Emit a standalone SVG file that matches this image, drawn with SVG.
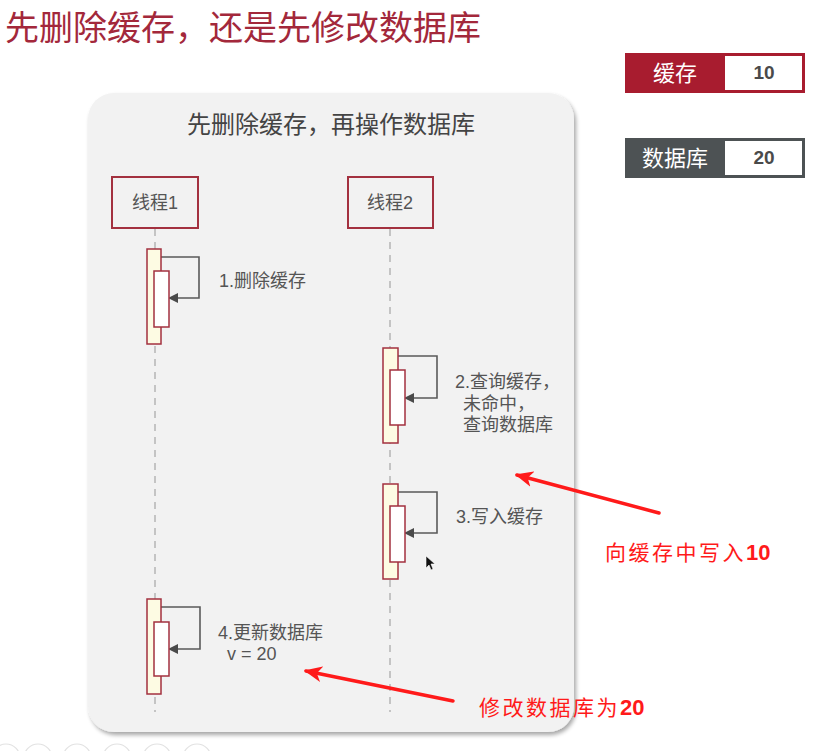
<svg xmlns="http://www.w3.org/2000/svg" width="835" height="751" viewBox="0 0 835 751">
  <style>
    .cn { font-family: "Liberation Sans", "Noto Sans CJK SC", sans-serif; }
    .thread { fill: #f2f2f2; stroke: #a3313f; stroke-width: 2; }
    .life { stroke: #b5b5b5; stroke-width: 1.5; stroke-dasharray: 7 6; fill: none; }
    .act-outer { fill: #fdfbe3; stroke: #a3313f; stroke-width: 1.5; }
    .act-inner { fill: #ffffff; stroke: #a3313f; stroke-width: 1.5; }
    .self { fill: none; stroke: #5a5a5a; stroke-width: 1.6; marker-end: url(#tri); }
    .lbl { font-size: 18px; fill: #555; }
    .note { font-size: 21px; fill: #ff1a1a; letter-spacing: 2.5px; }
    .num { font-weight: bold; font-size: 22px; letter-spacing: 0; }
    .hint { stroke: #ff1a1a; stroke-width: 3.5; fill: none; stroke-linecap: round; marker-end: url(#redhead); }
  </style>
  <defs>
    <marker id="tri" markerWidth="10" markerHeight="10" refX="8" refY="5" orient="auto" markerUnits="userSpaceOnUse">
      <path d="M0,0 L10,5 L0,10 Z" fill="#4a4a4a"/>
    </marker>
    <marker id="redhead" markerWidth="20" markerHeight="16" refX="16" refY="8" orient="auto" markerUnits="userSpaceOnUse">
      <path d="M0,0 L18,8 L0,16 L5,8 Z" fill="#ff1a1a"/>
    </marker>
    <filter id="shadow" x="-5%" y="-5%" width="110%" height="110%">
      <feGaussianBlur in="SourceAlpha" stdDeviation="2"/>
      <feOffset dx="2" dy="3" result="b"/>
      <feComponentTransfer><feFuncA type="linear" slope="0.35"/></feComponentTransfer>
      <feMerge><feMergeNode/><feMergeNode in="SourceGraphic"/></feMerge>
    </filter>
  </defs>

  <rect width="835" height="751" fill="#ffffff"/>

  <!-- page heading -->
  <text class="cn" x="5" y="40" font-size="34" fill="#a3283b">先删除缓存，还是先修改数据库</text>

  <!-- value legend -->
  <g id="legend-cache">
    <rect x="625" y="53" width="180" height="40" fill="#a81c2f"/>
    <rect x="725" y="56" width="77" height="34" fill="#ffffff"/>
    <text class="cn" x="675" y="81" font-size="22" fill="#ffffff" text-anchor="middle">缓存</text>
    <text class="cn" x="764" y="79" font-size="19" font-weight="bold" fill="#4a4a4a" text-anchor="middle">10</text>
  </g>
  <g id="legend-db">
    <rect x="625" y="138" width="180" height="40" fill="#4d5254"/>
    <rect x="725" y="141" width="77" height="34" fill="#ffffff"/>
    <text class="cn" x="675" y="166" font-size="22" fill="#ffffff" text-anchor="middle">数据库</text>
    <text class="cn" x="764" y="164" font-size="19" font-weight="bold" fill="#4a4a4a" text-anchor="middle">20</text>
  </g>

  <!-- sequence panel -->
  <rect x="88" y="93" width="486" height="639" rx="26" fill="#f2f2f2" filter="url(#shadow)"/>
  <text class="cn" x="331" y="133" font-size="24" fill="#444" text-anchor="middle">先删除缓存，再操作数据库</text>

  <g id="connectors">
    <line class="life" x1="155" y1="229" x2="155" y2="712"/>
    <line class="life" x1="390" y1="229" x2="390" y2="712"/>
    <polyline class="self" points="161,257 199,257 199,298 170,298"/>
    <polyline class="self" points="398,356 437,356 437,398 406,398"/>
    <polyline class="self" points="398,492 437,492 437,533 406,533"/>
    <polyline class="self" points="161,607 200,607 200,649 170,649"/>
    <line class="hint" x1="659" y1="513" x2="517" y2="475"/>
    <line class="hint" x1="453" y1="701" x2="306" y2="671"/>
  </g>

  <g id="thread1">
    <rect class="thread" x="112" y="177" width="86" height="51"/>
    <text class="cn" x="155" y="209" font-size="18" fill="#555" text-anchor="middle">线程1</text>
  </g>
  <g id="thread2">
    <rect class="thread" x="348" y="177" width="85" height="51"/>
    <text class="cn" x="390" y="209" font-size="18" fill="#555" text-anchor="middle">线程2</text>
  </g>

  <g id="step1">
    <rect class="act-outer" x="147" y="249" width="14" height="95"/>
    <rect class="act-inner" x="154" y="271" width="15" height="56"/>
    <text class="cn lbl" x="219" y="287">1.删除缓存</text>
  </g>
  <g id="step2">
    <rect class="act-outer" x="383" y="348" width="15" height="95"/>
    <rect class="act-inner" x="390" y="370" width="15" height="55"/>
    <text class="cn lbl" x="455" y="388">2.查询缓存，</text>
    <text class="cn lbl" x="463" y="410">未命中，</text>
    <text class="cn lbl" x="463" y="431">查询数据库</text>
  </g>
  <g id="step3">
    <rect class="act-outer" x="383" y="484" width="15" height="95"/>
    <rect class="act-inner" x="390" y="506" width="15" height="56"/>
    <text class="cn lbl" x="456" y="523">3.写入缓存</text>
  </g>
  <g id="step4">
    <rect class="act-outer" x="147" y="599" width="14" height="95"/>
    <rect class="act-inner" x="154" y="622" width="15" height="54"/>
    <text class="cn lbl" x="218" y="639">4.更新数据库</text>
    <text class="cn lbl" x="227" y="660">v = 20</text>
  </g>

  <!-- annotations -->
  <text class="cn note" x="605" y="560">向缓存中写入<tspan class="num">10</tspan></text>
  <text class="cn note" x="479" y="715">修改数据库为<tspan class="num">20</tspan></text>

  <!-- pointer -->
  <path d="M426,556 L426,568 L429,565 L431,570 L433,569 L431,564 L435,564 Z" fill="#111" stroke="#fff" stroke-width="0.6"/>

  <!-- bottom control row -->
  <g fill="none" stroke="#e2e2e2" stroke-width="1.2">
    <circle cx="6" cy="758" r="14"/>
    <circle cx="38" cy="758" r="14"/>
    <circle cx="77" cy="758" r="14"/>
    <circle cx="117" cy="758" r="14"/>
    <circle cx="157" cy="758" r="14"/>
    <circle cx="197" cy="758" r="14"/>
  </g>
</svg>
